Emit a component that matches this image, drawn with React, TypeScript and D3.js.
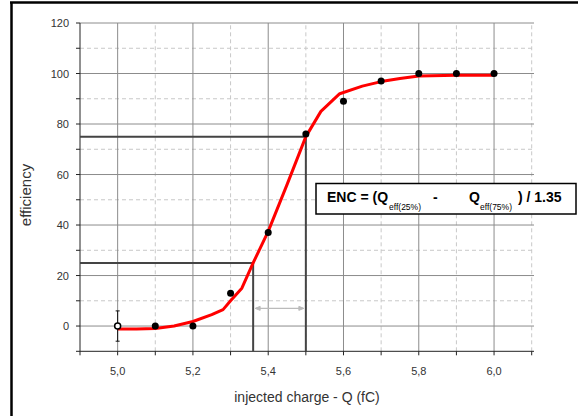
import React from "react";
import * as d3 from "d3";

const xData = [5.0, 5.1, 5.2, 5.3, 5.4, 5.5, 5.6, 5.7, 5.8, 5.9, 6.0];
const yData = [0, 0, 0, 13, 37, 76, 89, 97, 100, 100, 100];
const fitX = [5.0, 5.05, 5.1, 5.15, 5.2, 5.25, 5.28, 5.3, 5.33, 5.36, 5.4, 5.45, 5.5, 5.54, 5.59, 5.65, 5.7, 5.75, 5.8, 5.9, 6.0];
const fitY = [-1.2, -1.2, -1.0, 0.0, 1.8, 4.5, 6.5, 10, 15, 25, 37.5, 56, 75, 85, 92, 95, 96.8, 98, 99, 99.3, 99.3];
const xMajor = [5.0, 5.2, 5.4, 5.6, 5.8, 6.0];
const xMinor = [4.9, 5.1, 5.3, 5.5, 5.7, 5.9, 6.1];
const yMajor = [0, 20, 40, 60, 80, 100, 120];
const yMinor = [-10, 10, 30, 50, 70, 90, 110];
const q25 = 5.36;
const q75 = 5.5;
const errBar = 6;

export default function App() {
  const W = 578, H = 416;
  const x = d3.scaleLinear().domain([4.9, 6.1]).range([80, 531.7]);
  const y = d3.scaleLinear().domain([-10, 120]).range([351.3, 23]);
  const gridRight = 534;
  const line = d3.line<number>().x((d, i) => x(fitX[i])).y((d) => y(d));
  const font = "Arial, 'Liberation Sans', sans-serif";
  const fmt = (v: number) => v.toFixed(1).replace(".", ",");
  return (
    <svg width={W} height={H} style={{ position: "absolute", left: 0, top: 0, background: "#fff" }} fontFamily={font}>
      <rect x={0} y={0} width={W} height={H} fill="#fff" />
      {/* frame */}
      <line x1={11.5} y1={2} x2={11.5} y2={H} stroke="#000" strokeWidth={2.5} />
      <line x1={10} y1={2.5} x2={W} y2={2.5} stroke="#000" strokeWidth={2.5} />
      {/* minor grid */}
      {xMinor.filter((v) => v > 4.95).map((v) => (
        <line key={"xm" + v} x1={x(v)} x2={x(v)} y1={y(-10)} y2={y(120)} stroke="#c8c8c8" strokeDasharray="4,3" />
      ))}
      {yMinor.filter((v) => v > -5).map((v) => (
        <line key={"ym" + v} x1={x(4.9)} x2={gridRight} y1={y(v)} y2={y(v)} stroke="#c8c8c8" strokeDasharray="4,3" />
      ))}
      {/* major grid */}
      {xMajor.map((v) => (
        <line key={"xg" + v} x1={x(v)} x2={x(v)} y1={y(-10)} y2={y(120)} stroke="#8c8c8c" />
      ))}
      {yMajor.map((v) => (
        <line key={"yg" + v} x1={x(4.9)} x2={gridRight} y1={y(v)} y2={y(v)} stroke="#8c8c8c" />
      ))}
      {/* axes */}
      <line x1={x(4.9)} x2={x(4.9)} y1={y(-10)} y2={y(120)} stroke="#222" />
      <line x1={x(4.9)} x2={gridRight} y1={y(-10)} y2={y(-10)} stroke="#222" />
      {yMajor.concat(yMinor).map((v) => (
        <line key={"yt" + v} x1={x(4.9) - 4} x2={x(4.9)} y1={y(v)} y2={y(v)} stroke="#222" />
      ))}
      {xMajor.concat(xMinor).map((v) => (
        <line key={"xt" + v} x1={x(v)} x2={x(v)} y1={y(-10)} y2={y(-10) + 4} stroke="#222" />
      ))}
      {yMajor.map((v) => (
        <text key={"yl" + v} x={69} y={y(v) + 4} textAnchor="end" fontSize={11} fill="#333">{v}</text>
      ))}
      {xMajor.map((v) => (
        <text key={"xl" + v} x={x(v)} y={375} textAnchor="middle" fontSize={11} fill="#333">{fmt(v)}</text>
      ))}
      <text x={307} y={402} textAnchor="middle" fontSize={14} fill="#333">injected charge - Q (fC)</text>
      <text transform={`translate(31,195) rotate(-90)`} textAnchor="middle" fontSize={15} fill="#333">efficiency</text>
      {/* quantile lines */}
      <polyline points={`${x(4.9)},${y(75)} ${x(q75)},${y(75)} ${x(q75)},${y(-10)}`} fill="none" stroke="#444" strokeWidth={2} />
      <polyline points={`${x(4.9)},${y(25)} ${x(q25)},${y(25)} ${x(q25)},${y(-10)}`} fill="none" stroke="#444" strokeWidth={2} />
      {/* double arrow */}
      <g stroke="#bbb" fill="#bbb">
        <line x1={x(q25) + 3} x2={x(q75) - 3} y1={y(7)} y2={y(7)} strokeWidth={1.2} />
        <path d={`M${x(q25) + 2},${y(7)} l5,-2 l0,4 z`} />
        <path d={`M${x(q75) - 2},${y(7)} l-5,-2 l0,4 z`} />
      </g>
      {/* fit curve */}
      <path d={line(fitY) || ""} fill="none" stroke="#ff0000" strokeWidth={3} strokeLinejoin="round" />
      {/* error bar at first point */}
      <g stroke="#111" strokeWidth={1}>
        <line x1={x(xData[0])} x2={x(xData[0])} y1={y(yData[0] - errBar)} y2={y(yData[0] + errBar)} />
        <line x1={x(xData[0]) - 2} x2={x(xData[0]) + 2} y1={y(yData[0] - errBar)} y2={y(yData[0] - errBar)} />
        <line x1={x(xData[0]) - 2} x2={x(xData[0]) + 2} y1={y(yData[0] + errBar)} y2={y(yData[0] + errBar)} />
      </g>
      {xData.map((v, i) => (
        <circle key={"p" + v} cx={x(v)} cy={y(yData[i])} r={i === 0 ? 3 : 3.5} fill={i === 0 ? "#fff" : "#000"} stroke="#000" strokeWidth={i === 0 ? 1.5 : 0} />
      ))}
      {/* formula box */}
      <rect x={316} y={183.5} width={260} height={30.5} fill="#fff" stroke="#000" strokeWidth={1.5} />
      <text y={201.7} fontSize={14} fontWeight="bold" fill="#000">
        <tspan x={327}>ENC = (Q</tspan>
        <tspan x={389} y={209.5} fontSize={8.5} fontWeight="normal">eff(25%)</tspan>
        <tspan x={433} y={201.7}>-</tspan>
        <tspan x={469} y={201.7}>Q</tspan>
        <tspan x={480} y={209.5} fontSize={8.5} fontWeight="normal">eff(75%)</tspan>
        <tspan x={518} y={201.7}>) / 1.35</tspan>
      </text>
    </svg>
  );
}
